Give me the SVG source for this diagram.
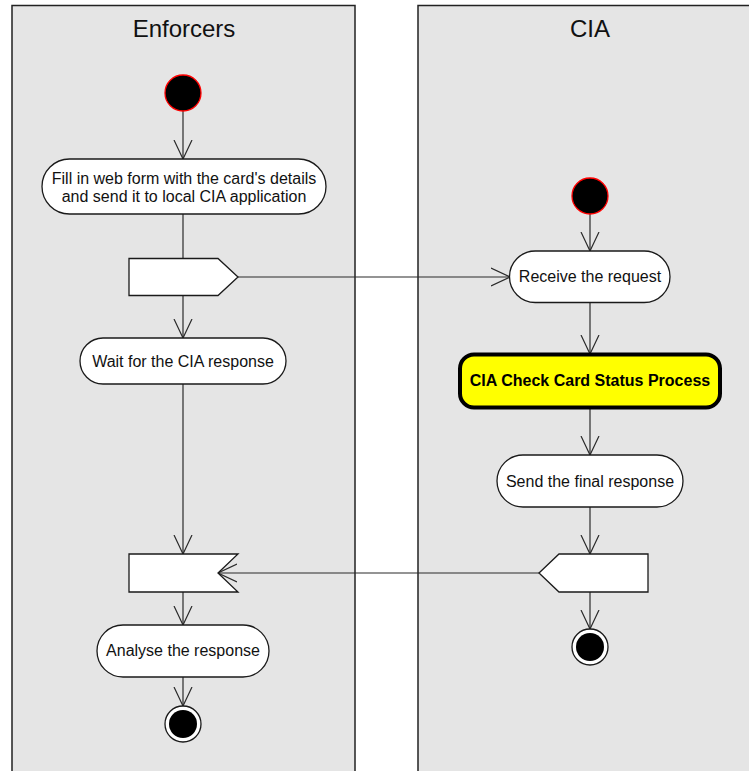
<svg xmlns="http://www.w3.org/2000/svg" width="749" height="771" viewBox="0 0 749 771">
  <style>
    .lane { fill: #e5e5e5; stroke: #222222; stroke-width: 1.5; }
    .lane-title { font-family: "Liberation Sans", Arial, sans-serif; font-size: 24px; fill: #111111; text-anchor: middle; }
    .act { fill: #ffffff; stroke: #1a1a1a; stroke-width: 1.3; }
    .sub { fill: #ffff00; stroke: #000000; stroke-width: 4; }
    .label { font-family: "Liberation Sans", Arial, sans-serif; font-size: 16px; fill: #111111; text-anchor: middle; }
    .bold { font-weight: bold; fill: #000000; }
    .start { fill: #000000; stroke: #ff0000; stroke-width: 1.3; }
    .end-ring { fill: #ffffff; stroke: #1a1a1a; stroke-width: 1.3; }
    .end-dot { fill: #000000; }
    .flow { fill: none; stroke: #2a2a2a; stroke-width: 1.2; }
  </style>
  <defs>
    <marker id="open" viewBox="0 0 20 20" refX="19" refY="10" markerWidth="20" markerHeight="20" markerUnits="userSpaceOnUse" orient="auto">
      <path d="M0,1 L19,10 L0,19" fill="none" stroke="#2a2a2a" stroke-width="1.2"/>
    </marker>
  </defs>

  <!-- swimlanes -->
  <g id="lane-enforcers">
    <rect class="lane" x="12" y="5.5" width="343" height="780"/>
    <text class="lane-title" x="184" y="37">Enforcers</text>
  </g>
  <g id="lane-cia">
    <rect class="lane" x="418" y="5.5" width="345" height="780"/>
    <text class="lane-title" x="590" y="37">CIA</text>
  </g>

  <!-- connectors -->
  <g id="connectors">
    <line class="flow" x1="183" y1="111" x2="183" y2="159" marker-end="url(#open)"/>
    <line class="flow" x1="183" y1="214" x2="183" y2="258"/>
    <line class="flow" x1="238" y1="277" x2="510" y2="277" marker-end="url(#open)"/>
    <line class="flow" x1="183" y1="295" x2="183" y2="338" marker-end="url(#open)"/>
    <line class="flow" x1="183" y1="384" x2="183" y2="554" marker-end="url(#open)"/>
    <line class="flow" x1="539" y1="573" x2="218" y2="573" marker-end="url(#open)"/>
    <line class="flow" x1="183" y1="592" x2="183" y2="625" marker-end="url(#open)"/>
    <line class="flow" x1="183" y1="677" x2="183" y2="706" marker-end="url(#open)"/>
    <line class="flow" x1="590" y1="214" x2="590" y2="251" marker-end="url(#open)"/>
    <line class="flow" x1="590" y1="302" x2="590" y2="354" marker-end="url(#open)"/>
    <line class="flow" x1="590" y1="407" x2="590" y2="455" marker-end="url(#open)"/>
    <line class="flow" x1="590" y1="507" x2="590" y2="554" marker-end="url(#open)"/>
    <line class="flow" x1="590" y1="592" x2="590" y2="629" marker-end="url(#open)"/>
  </g>

  <!-- Enforcers nodes -->
  <g id="start-enforcers">
    <circle class="start" cx="183" cy="93" r="18"/>
  </g>
  <g id="fill-form">
    <rect class="act" x="42" y="159" width="284" height="55" rx="27.5"/>
    <text class="label" x="184" y="184">Fill in web form with the card's details</text>
    <text class="label" x="184" y="202">and send it to local CIA application</text>
  </g>
  <g id="send-request">
    <polygon class="act" points="129,258.5 218,258.5 238,277 218,295.5 129,295.5"/>
  </g>
  <g id="wait-response">
    <rect class="act" x="80" y="338" width="206" height="46" rx="23"/>
    <text class="label" x="183" y="367">Wait for the CIA response</text>
  </g>
  <g id="accept-response">
    <polygon class="act" points="129,554 238,554 218,573 238,592 129,592"/>
  </g>
  <g id="analyse-response">
    <rect class="act" x="97" y="625" width="172" height="52" rx="26"/>
    <text class="label" x="183" y="656">Analyse the response</text>
  </g>
  <g id="end-enforcers">
    <circle class="end-ring" cx="183" cy="724" r="18"/>
    <circle class="end-dot" cx="183" cy="724" r="14"/>
  </g>

  <!-- CIA nodes -->
  <g id="start-cia">
    <circle class="start" cx="590" cy="196" r="18"/>
  </g>
  <g id="receive-request">
    <rect class="act" x="509.5" y="251" width="160.5" height="51.5" rx="25.75"/>
    <text class="label" x="590" y="282">Receive the request</text>
  </g>
  <g id="check-card-status">
    <rect class="sub" x="460" y="354.5" width="260" height="53" rx="14"/>
    <text class="label bold" x="590" y="386">CIA Check Card Status Process</text>
  </g>
  <g id="send-final-response">
    <rect class="act" x="497" y="455" width="186" height="52" rx="26"/>
    <text class="label" x="590" y="487">Send the final response</text>
  </g>
  <g id="send-response-signal">
    <polygon class="act" points="539,573 559,554 648,554 648,592 559,592"/>
  </g>
  <g id="end-cia">
    <circle class="end-ring" cx="590" cy="647" r="18"/>
    <circle class="end-dot" cx="590" cy="647" r="14"/>
  </g>
</svg>
